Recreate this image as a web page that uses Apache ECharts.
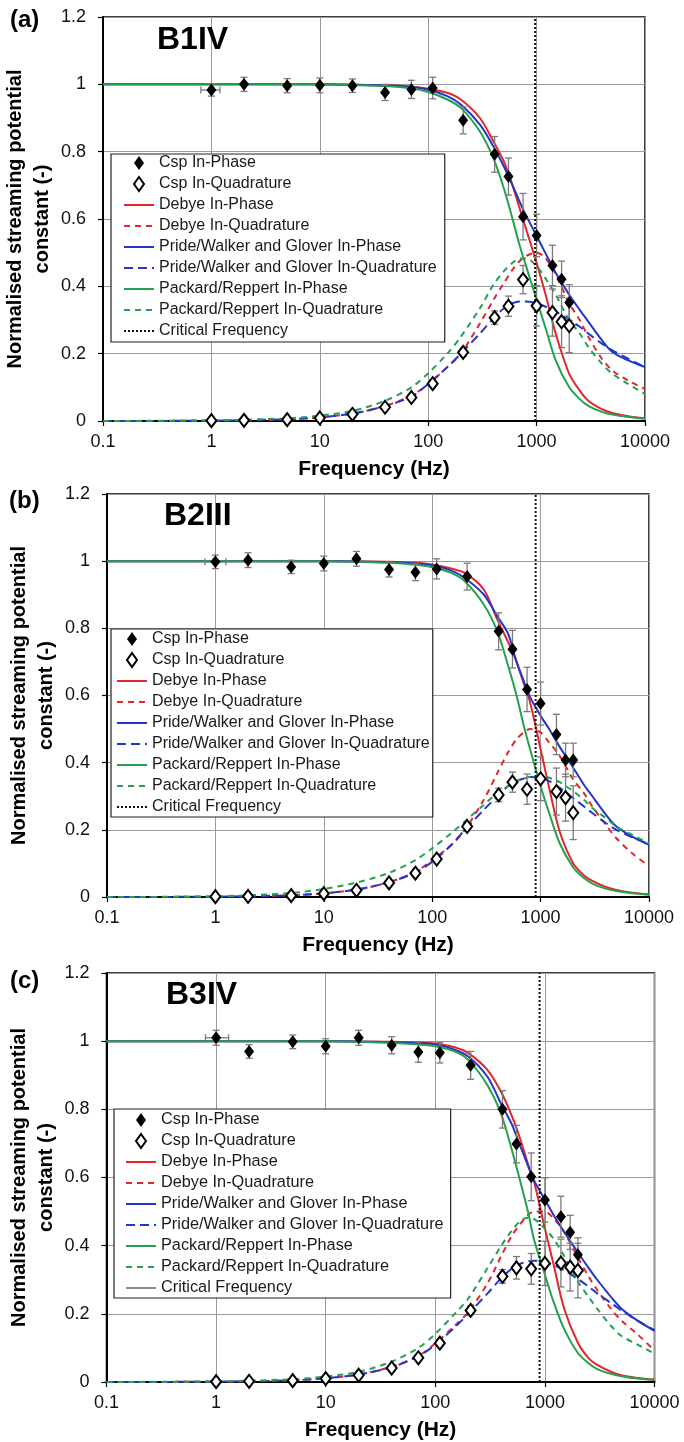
<!DOCTYPE html>
<html>
<head>
<meta charset="utf-8">
<script src="https://cdn.jsdelivr.net/npm/echarts/dist/echarts.min.js"></script>
<style>
html,body{margin:0;padding:0;background:#fff;}
#chart{width:684px;height:1442px;}
</style>
</head>
<body>
<div id="chart"></div>
<script>
// ---------------- DATA ----------------
const X_TICKS = [0.1, 1, 10, 100, 1000, 10000];
const Y_TICKS = [0, 0.2, 0.4, 0.6, 0.8, 1, 1.2];

const FREQ_CURVE = [0.1, 1, 5, 10, 20, 40, 70, 100, 150, 200, 300, 400, 500, 600, 700, 800, 1000, 1200, 1500, 2000, 2500, 3000, 4000, 5000, 7000, 10000];
// measured frequencies
const FREQ_DATA = [1, 2, 5, 10, 20, 40, 70, 110, 210, 410, 550, 750, 1000, 1400, 1700, 2000];

const SERIES_NAMES = ['Csp In-Phase', 'Csp In-Quadrature', 'Debye In-Phase', 'Debye In-Quadrature',
  'Pride/Walker and Glover In-Phase', 'Pride/Walker and Glover In-Quadrature',
  'Packard/Reppert In-Phase', 'Packard/Reppert In-Quadrature', 'Critical Frequency'];

const PANEL_TAGS = ['(a)', '(b)', '(c)'];
const SAMPLE_NAMES = ['B1IV', 'B2III', 'B3IV'];
const CRIT_FREQ = [970, 900, 895];
const X_ERR_1HZ = [[0.8, 1.2], [0.8, 1.25], [0.8, 1.3]];

// ---- panel (a) B1IV ----
const A_CSP_IP      = [0.983, 1.0, 0.996, 0.997, 0.996, 0.976, 0.985, 0.989, 0.893, 0.792, 0.726, 0.607, 0.551, 0.462, 0.421, 0.352];
const A_CSP_IP_ERR  = [0.018, 0.021, 0.021, 0.022, 0.02, 0.024, 0.027, 0.032, 0.04, 0.053, 0.055, 0.069, 0.063, 0.06, 0.054, 0.053];
const A_CSP_Q       = [0.001, 0.002, 0.004, 0.009, 0.02, 0.041, 0.07, 0.111, 0.204, 0.307, 0.341, 0.42, 0.342, 0.322, 0.295, 0.283];
const A_CSP_Q_ERR   = [0, 0, 0, 0, 0, 0.006, 0.008, 0.01, 0.012, 0.02, 0.03, 0.042, 0.06, 0.07, 0.077, 0.08];
const A_DEBYE_IP    = [1, 1, 1, 1, 0.999, 0.997, 0.993, 0.987, 0.975, 0.955, 0.9, 0.83, 0.77, 0.7, 0.63, 0.57, 0.47, 0.38, 0.26, 0.14, 0.09, 0.06, 0.035, 0.024, 0.014, 0.008];
const A_DEBYE_Q     = [0, 0.001, 0.005, 0.011, 0.022, 0.045, 0.075, 0.11, 0.16, 0.2, 0.29, 0.36, 0.41, 0.45, 0.475, 0.49, 0.5, 0.485, 0.435, 0.35, 0.3, 0.25, 0.185, 0.15, 0.12, 0.095];
const A_PRIDE_IP    = [1, 1, 1, 1, 0.999, 0.997, 0.992, 0.984, 0.965, 0.94, 0.88, 0.815, 0.755, 0.7, 0.65, 0.61, 0.55, 0.5, 0.44, 0.375, 0.33, 0.295, 0.24, 0.205, 0.18, 0.16];
const A_PRIDE_Q     = [0, 0.001, 0.005, 0.011, 0.022, 0.044, 0.073, 0.11, 0.16, 0.2, 0.26, 0.305, 0.335, 0.35, 0.355, 0.355, 0.35, 0.34, 0.325, 0.3, 0.28, 0.26, 0.23, 0.21, 0.185, 0.16];
const A_PACK_IP     = [1, 1, 1, 1, 0.998, 0.995, 0.988, 0.977, 0.955, 0.93, 0.86, 0.78, 0.69, 0.6, 0.52, 0.46, 0.36, 0.28, 0.18, 0.1, 0.065, 0.045, 0.027, 0.019, 0.012, 0.007];
const A_PACK_Q      = [0, 0.002, 0.008, 0.016, 0.03, 0.06, 0.1, 0.142, 0.2, 0.25, 0.335, 0.405, 0.445, 0.47, 0.483, 0.483, 0.46, 0.425, 0.375, 0.3, 0.26, 0.22, 0.17, 0.14, 0.11, 0.08];

// ---- panel (b) B2III ----
const B_CSP_IP      = [0.998, 1.003, 0.983, 0.993, 1.007, 0.975, 0.967, 0.977, 0.954, 0.791, 0.738, 0.618, 0.576, 0.484, 0.408, 0.408];
const B_CSP_IP_ERR  = [0.02, 0.022, 0.02, 0.022, 0.022, 0.022, 0.025, 0.03, 0.04, 0.055, 0.056, 0.066, 0.064, 0.06, 0.05, 0.05];
const B_CSP_Q       = [0.001, 0.002, 0.004, 0.01, 0.02, 0.042, 0.071, 0.113, 0.21, 0.304, 0.342, 0.321, 0.352, 0.314, 0.296, 0.251];
const B_CSP_Q_ERR   = [0, 0, 0, 0, 0, 0.006, 0.008, 0.01, 0.012, 0.02, 0.03, 0.045, 0.065, 0.07, 0.07, 0.08];
const B_DEBYE_IP    = [1, 1, 1, 1, 0.999, 0.998, 0.995, 0.99, 0.978, 0.965, 0.915, 0.825, 0.76, 0.7, 0.635, 0.58, 0.44, 0.325, 0.195, 0.1, 0.065, 0.048, 0.03, 0.021, 0.013, 0.008];
const B_DEBYE_Q     = [0, 0.001, 0.005, 0.011, 0.022, 0.044, 0.075, 0.11, 0.155, 0.2, 0.29, 0.37, 0.43, 0.47, 0.49, 0.5, 0.49, 0.46, 0.42, 0.35, 0.31, 0.27, 0.215, 0.175, 0.13, 0.092];
const B_PRIDE_IP    = [1, 1, 1, 1, 0.999, 0.997, 0.993, 0.988, 0.972, 0.95, 0.9, 0.835, 0.785, 0.7, 0.643, 0.595, 0.54, 0.5, 0.447, 0.385, 0.335, 0.3, 0.245, 0.21, 0.18, 0.155];
const B_PRIDE_Q     = [0, 0.001, 0.005, 0.011, 0.022, 0.044, 0.073, 0.105, 0.155, 0.2, 0.26, 0.3, 0.33, 0.345, 0.353, 0.357, 0.355, 0.345, 0.325, 0.295, 0.27, 0.25, 0.22, 0.2, 0.178, 0.158];
const B_PACK_IP     = [1, 1, 1, 1, 0.998, 0.995, 0.989, 0.982, 0.965, 0.94, 0.87, 0.79, 0.69, 0.6, 0.51, 0.44, 0.33, 0.25, 0.16, 0.088, 0.057, 0.04, 0.025, 0.018, 0.011, 0.007];
const B_PACK_Q      = [0, 0.002, 0.012, 0.024, 0.043, 0.072, 0.11, 0.145, 0.19, 0.225, 0.275, 0.31, 0.33, 0.345, 0.353, 0.358, 0.36, 0.355, 0.342, 0.315, 0.29, 0.265, 0.235, 0.21, 0.185, 0.16];

// ---- panel (c) B3IV ----
const C_CSP_IP      = [1.01, 0.97, 0.998, 0.985, 1.01, 0.988, 0.968, 0.966, 0.929, 0.8, 0.698, 0.602, 0.534, 0.485, 0.439, 0.373];
const C_CSP_IP_ERR  = [0.022, 0.02, 0.02, 0.022, 0.022, 0.025, 0.03, 0.03, 0.041, 0.055, 0.055, 0.07, 0.065, 0.06, 0.05, 0.05];
const C_CSP_Q       = [0.001, 0.002, 0.004, 0.01, 0.02, 0.041, 0.071, 0.114, 0.21, 0.31, 0.335, 0.332, 0.348, 0.349, 0.337, 0.327];
const C_CSP_Q_ERR   = [0, 0, 0, 0, 0, 0.006, 0.008, 0.01, 0.012, 0.02, 0.033, 0.045, 0.065, 0.07, 0.07, 0.08];
const C_DEBYE_IP    = [1, 1, 1, 1, 0.999, 0.998, 0.996, 0.993, 0.982, 0.965, 0.915, 0.85, 0.78, 0.71, 0.64, 0.585, 0.45, 0.345, 0.215, 0.115, 0.07, 0.05, 0.03, 0.02, 0.012, 0.007];
const C_DEBYE_Q     = [0, 0.001, 0.005, 0.011, 0.022, 0.045, 0.077, 0.113, 0.165, 0.205, 0.29, 0.37, 0.43, 0.465, 0.49, 0.5, 0.5, 0.48, 0.44, 0.365, 0.31, 0.27, 0.215, 0.18, 0.14, 0.092];
const C_PRIDE_IP    = [1, 1, 1, 1, 0.999, 0.997, 0.994, 0.99, 0.975, 0.955, 0.895, 0.815, 0.755, 0.69, 0.635, 0.59, 0.535, 0.49, 0.44, 0.38, 0.335, 0.3, 0.25, 0.215, 0.18, 0.15];
const C_PRIDE_Q     = [0, 0.001, 0.005, 0.011, 0.022, 0.044, 0.075, 0.11, 0.16, 0.2, 0.26, 0.305, 0.333, 0.347, 0.354, 0.356, 0.352, 0.343, 0.328, 0.302, 0.28, 0.26, 0.232, 0.21, 0.18, 0.152];
const C_PACK_IP     = [1, 1, 1, 1, 0.998, 0.995, 0.99, 0.985, 0.97, 0.945, 0.87, 0.785, 0.68, 0.585, 0.5, 0.415, 0.315, 0.235, 0.155, 0.085, 0.055, 0.038, 0.024, 0.017, 0.01, 0.006];
const C_PACK_Q      = [0, 0.002, 0.008, 0.016, 0.03, 0.06, 0.1, 0.141, 0.2, 0.245, 0.335, 0.4, 0.445, 0.473, 0.482, 0.478, 0.45, 0.42, 0.37, 0.295, 0.25, 0.215, 0.165, 0.135, 0.11, 0.083];

// ---------------- LAYOUT / STYLE ----------------
const PANEL_DATA = [
  {ip: A_CSP_IP, ipErr: A_CSP_IP_ERR, q: A_CSP_Q, qErr: A_CSP_Q_ERR,
   curves: [A_DEBYE_IP, A_DEBYE_Q, A_PRIDE_IP, A_PRIDE_Q, A_PACK_IP, A_PACK_Q]},
  {ip: B_CSP_IP, ipErr: B_CSP_IP_ERR, q: B_CSP_Q, qErr: B_CSP_Q_ERR,
   curves: [B_DEBYE_IP, B_DEBYE_Q, B_PRIDE_IP, B_PRIDE_Q, B_PACK_IP, B_PACK_Q]},
  {ip: C_CSP_IP, ipErr: C_CSP_IP_ERR, q: C_CSP_Q, qErr: C_CSP_Q_ERR,
   curves: [C_DEBYE_IP, C_DEBYE_Q, C_PRIDE_IP, C_PRIDE_Q, C_PACK_IP, C_PACK_Q]}
];

const LAYOUT = [
  {grid: {left: 103, top: 17, width: 542, height: 404}, legend: {left: 111, top: 154, padding: [1, 8, 3, 12]},
   tag: [10, 22], sample: [157, 40], legendFont: 16},
  {grid: {left: 107, top: 494, width: 542, height: 403}, legend: {left: 111, top: 629, padding: [2, 3, 2, 5]},
   tag: [9, 503], sample: [164, 516], legendFont: 16},
  {grid: {left: 106.5, top: 973, width: 548, height: 409}, legend: {left: 114, top: 1109, padding: [3, 7, 2, 11]},
   tag: [10, 983], sample: [166, 995], legendFont: 16.3}
];

const RED = '#e3262b', BLUE = '#2436c8', GREEN = '#22a24f', ERRC = '#7a7a7a';
const CURVE_STYLES = [
  {color: RED, type: 'solid'}, {color: RED, type: [6, 5]},
  {color: BLUE, type: 'solid'}, {color: BLUE, type: [9, 5]},
  {color: GREEN, type: 'solid'}, {color: GREEN, type: [6, 5]}
];
const FONT = 'Liberation Sans, Arial, Helvetica, sans-serif';
const DIAMOND = 'path://M5,0L10,7L5,14L0,7Z';
const NO_SYMBOL = {color: 'rgba(0,0,0,0)', borderColor: 'rgba(0,0,0,0)', borderWidth: 0, opacity: 0};

function errRender(params, api) {
  const x = api.value(0), y = api.value(1), e = api.value(2);
  if (!e) return {type: 'group', children: []};
  const top = api.coord([x, y + e]), bot = api.coord([x, y - e]);
  const cx = top[0], w = 3.5;
  const st = {stroke: ERRC, lineWidth: 1.3};
  return {type: 'group', children: [
    {type: 'line', shape: {x1: cx, y1: top[1], x2: cx, y2: bot[1]}, style: st},
    {type: 'line', shape: {x1: cx - w, y1: top[1], x2: cx + w, y2: top[1]}, style: st},
    {type: 'line', shape: {x1: cx - w, y1: bot[1], x2: cx + w, y2: bot[1]}, style: st}
  ]};
}
function xErrRender(params, api) {
  const lo = api.coord([api.value(0), api.value(2)]);
  const hi = api.coord([api.value(1), api.value(2)]);
  const h = 3.5;
  const st = {stroke: ERRC, lineWidth: 1.3};
  return {type: 'group', children: [
    {type: 'line', shape: {x1: lo[0], y1: lo[1], x2: hi[0], y2: hi[1]}, style: st},
    {type: 'line', shape: {x1: lo[0], y1: lo[1] - h, x2: lo[0], y2: lo[1] + h}, style: st},
    {type: 'line', shape: {x1: hi[0], y1: hi[1] - h, x2: hi[0], y2: hi[1] + h}, style: st}
  ]};
}

const grids = [], xAxes = [], yAxes = [], legends = [], series = [], graphics = [];

PANEL_DATA.forEach((pd, i) => {
  const L = LAYOUT[i];
  grids.push(Object.assign({show: true, borderColor: '#000', borderWidth: 1.5, containLabel: false, outerBoundsMode: 'none'}, L.grid));
  xAxes.push({
    type: 'log', logBase: 10, gridIndex: i, min: X_TICKS[0], max: X_TICKS[X_TICKS.length - 1],
    axisLine: {show: true, lineStyle: {color: '#000', width: 2}},
    axisTick: {show: true, inside: false, length: 5, lineStyle: {color: '#000', width: 1.2}},
    minorTick: {show: false},
    axisLabel: {fontSize: 18, color: '#111', fontFamily: FONT, margin: 12,
      formatter: v => String(+(+v).toPrecision(6))},
    splitLine: {show: true, lineStyle: {color: '#9a9a9a', width: 1}},
    name: 'Frequency (Hz)', nameLocation: 'middle', nameGap: 38, nameMoveOverlap: false,
    nameTextStyle: {fontSize: 21, fontWeight: 'bold', color: '#000', fontFamily: FONT}
  });
  yAxes.push({
    type: 'value', gridIndex: i, min: Y_TICKS[0], max: Y_TICKS[Y_TICKS.length - 1], interval: 0.2,
    axisLine: {show: true, lineStyle: {color: '#000', width: 2}},
    axisTick: {show: true, inside: false, length: 5, lineStyle: {color: '#000', width: 1.2}},
    axisLabel: {fontSize: 18, color: '#111', fontFamily: FONT, margin: 17},
    splitLine: {show: true, lineStyle: {color: '#9a9a9a', width: 1}},
    name: 'Normalised streaming potential\nconstant (-)', nameLocation: 'middle', nameGap: 47, nameRotate: 90,
    nameMoveOverlap: false,
    nameTextStyle: {fontSize: 20, fontWeight: 'bold', color: '#000', fontFamily: FONT, lineHeight: 27}
  });

  const legendData = SERIES_NAMES.map((n, k) => {
    if (k === 0 || k === 1) return {name: n, icon: DIAMOND};
    if (k === 8 && i === 2) return {name: n, itemStyle: NO_SYMBOL, lineStyle: {type: 'solid', color: '#8a8a8a', width: 2}};
    return {name: n, itemStyle: NO_SYMBOL};
  });
  legends.push({
    show: true, orient: 'vertical', left: L.legend.left, top: L.legend.top, padding: L.legend.padding,
    itemWidth: 30, itemHeight: 14, itemGap: 5, selectedMode: false,
    backgroundColor: '#fff', borderColor: '#222', borderWidth: 1.2, borderRadius: 0,
    textStyle: {fontSize: L.legendFont, color: '#1a1a1a', fontFamily: FONT, lineHeight: 16},
    data: legendData, z: 10
  });

  // model curves
  pd.curves.forEach((arr, k) => {
    series.push({
      name: SERIES_NAMES[k + 2], type: 'line', xAxisIndex: i, yAxisIndex: i,
      data: FREQ_CURVE.map((f, j) => [f, arr[j]]),
      smooth: 0.3, symbol: 'none', showSymbol: false, silent: true, z: 2,
      lineStyle: {color: CURVE_STYLES[k].color, width: 2, type: CURVE_STYLES[k].type},
      itemStyle: {color: CURVE_STYLES[k].color}
    });
  });
  // critical frequency
  series.push({
    name: SERIES_NAMES[8], type: 'line', xAxisIndex: i, yAxisIndex: i,
    data: [[CRIT_FREQ[i], Y_TICKS[0]], [CRIT_FREQ[i], Y_TICKS[Y_TICKS.length - 1]]],
    symbol: 'none', showSymbol: false, silent: true, z: 3,
    lineStyle: {color: '#111', width: 2, type: [2, 2]}, itemStyle: {color: '#111'}
  });
  // error bars
  series.push({
    type: 'custom', xAxisIndex: i, yAxisIndex: i, renderItem: errRender, silent: true, z: 4,
    encode: {x: 0, y: 1}, data: FREQ_DATA.map((f, j) => [f, pd.ip[j], pd.ipErr[j]])
  });
  series.push({
    type: 'custom', xAxisIndex: i, yAxisIndex: i, renderItem: errRender, silent: true, z: 4,
    encode: {x: 0, y: 1}, data: FREQ_DATA.map((f, j) => [f, pd.q[j], pd.qErr[j]])
  });
  series.push({
    type: 'custom', xAxisIndex: i, yAxisIndex: i, renderItem: xErrRender, silent: true, z: 4,
    encode: {x: [0, 1], y: 2}, data: [[X_ERR_1HZ[i][0], X_ERR_1HZ[i][1], pd.ip[0]]]
  });
  // measured points
  series.push({
    name: SERIES_NAMES[0], type: 'scatter', xAxisIndex: i, yAxisIndex: i, z: 5, silent: true,
    symbol: 'diamond', symbolSize: [10, 13],
    itemStyle: {color: '#000', borderColor: '#000', borderWidth: 0, opacity: 1},
    data: FREQ_DATA.map((f, j) => [f, pd.ip[j]])
  });
  series.push({
    name: SERIES_NAMES[1], type: 'scatter', xAxisIndex: i, yAxisIndex: i, z: 5, silent: true,
    symbol: 'diamond', symbolSize: [10, 13],
    itemStyle: {color: '#fff', borderColor: '#000', borderWidth: 2, opacity: 1},
    data: FREQ_DATA.map((f, j) => [f, pd.q[j]])
  });

  graphics.push({type: 'text', left: L.tag[0], top: L.tag[1] - 14, z: 20,
    style: {text: PANEL_TAGS[i], font: 'bold 24px ' + FONT, fill: '#000'}});
  graphics.push({type: 'text', left: L.sample[0], top: L.sample[1] - 16, z: 20,
    style: {text: SAMPLE_NAMES[i], font: 'bold 32px ' + FONT, fill: '#000'}});
});

const chart = echarts.init(document.getElementById('chart'), null, {renderer: 'canvas'});
chart.setOption({
  animation: false,
  backgroundColor: '#fff',
  textStyle: {fontFamily: FONT},
  grid: grids, xAxis: xAxes, yAxis: yAxes, legend: legends, series: series, graphic: graphics
});
</script>
</body>
</html>
